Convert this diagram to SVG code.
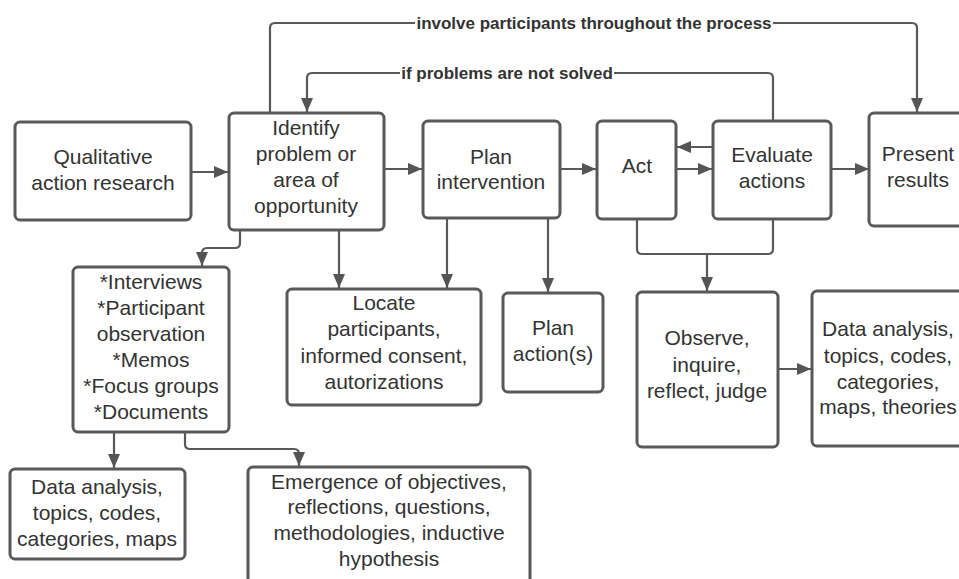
<svg xmlns="http://www.w3.org/2000/svg" width="959" height="579" viewBox="0 0 959 579">
<defs>
<marker id="ah" viewBox="0 0 14 12" refX="14" refY="6" markerWidth="14" markerHeight="12" markerUnits="userSpaceOnUse" orient="auto">
<path d="M0,0 L14,6 L0,12 Z" fill="#555"/>
</marker>
<style>
.box{fill:#fff;stroke:#595959;stroke-width:3}
.t{font-family:"Liberation Sans",Arial,sans-serif;font-size:21px;fill:#333;text-anchor:middle}
.lbl{font-family:"Liberation Sans",Arial,sans-serif;font-size:17px;font-weight:bold;fill:#333;text-anchor:middle}
.c{fill:none;stroke:#595959;stroke-width:2.2;stroke-linejoin:round}
.a{marker-end:url(#ah)}
</style>
</defs>
<rect width="959" height="579" fill="#fff"/>
<g id="connectors">
<path class="c a" d="M191,172 H228"/>
<path class="c a" d="M384,169 H422"/>
<path class="c a" d="M560,169 H596"/>
<path class="c a" d="M676,169 H712"/>
<path class="c a" d="M713,147 H677"/>
<path class="c a" d="M831,169 H869"/>
<path class="c" d="M270,113 V28 Q270,23 275,23 H415"/>
<path class="c a" d="M773,23 H912 Q917,23 917,28 V112"/>
<path class="c" d="M773,121 V78 Q773,73 768,73 H614"/>
<path class="c a" d="M400,73 H312 Q307,73 307,78 V112"/>
<path class="c a" d="M240,230 V243 Q240,248 235,248 H207 Q202,248 202,253 V266"/>
<path class="c a" d="M339,230 V288"/>
<path class="c a" d="M447,218 V288"/>
<path class="c a" d="M548,218 V292"/>
<path class="c" d="M637,219 V249 Q637,254 642,254 H768 Q773,254 773,249 V219"/>
<path class="c a" d="M707,254 V291"/>
<path class="c a" d="M778,369 H811"/>
<path class="c a" d="M114,432 V468"/>
<path class="c a" d="M185,432 V444 Q185,449 190,449 H294 Q299,449 299,454 V466"/>
<text class="lbl" x="594" y="29">involve participants throughout the process</text>
<text class="lbl" x="507" y="79">if problems are not solved</text>
</g>
<g id="n-qual"><rect class="box" x="15" y="122" width="176" height="98" rx="5"/><text class="t" x="103" y="164">Qualitative</text><text class="t" x="103" y="190">action research</text></g>
<g id="n-identify"><rect class="box" x="229" y="113" width="155" height="117" rx="5"/><text class="t" x="306" y="135">Identify</text><text class="t" x="306" y="161">problem or</text><text class="t" x="306" y="187">area of</text><text class="t" x="306" y="213">opportunity</text></g>
<g id="n-plan"><rect class="box" x="423" y="121" width="137" height="97" rx="5"/><text class="t" x="491" y="164">Plan</text><text class="t" x="491" y="189">intervention</text></g>
<g id="n-act"><rect class="box" x="597" y="121" width="79" height="98" rx="5"/><text class="t" x="637" y="173">Act</text></g>
<g id="n-eval"><rect class="box" x="713" y="121" width="118" height="98" rx="5"/><text class="t" x="772" y="162">Evaluate</text><text class="t" x="772" y="188">actions</text></g>
<g id="n-present"><rect class="box" x="869" y="113" width="110" height="113" rx="5"/><text class="t" x="918" y="161">Present</text><text class="t" x="918" y="187">results</text></g>
<g id="n-interviews"><rect class="box" x="73" y="267" width="156" height="165" rx="5"/><text class="t" x="151" y="289">*Interviews</text><text class="t" x="151" y="315">*Participant</text><text class="t" x="151" y="341">observation</text><text class="t" x="151" y="367">*Memos</text><text class="t" x="151" y="393">*Focus groups</text><text class="t" x="151" y="419">*Documents</text></g>
<g id="n-locate"><rect class="box" x="287" y="289" width="194" height="116" rx="5"/><text class="t" x="384" y="310">Locate</text><text class="t" x="384" y="336">participants,</text><text class="t" x="384" y="363">informed consent,</text><text class="t" x="384" y="389">autorizations</text></g>
<g id="n-planaction"><rect class="box" x="503" y="293" width="100" height="99" rx="5"/><text class="t" x="553" y="335">Plan</text><text class="t" x="553" y="361">action(s)</text></g>
<g id="n-observe"><rect class="box" x="637" y="292" width="141" height="155" rx="5"/><text class="t" x="707" y="345">Observe,</text><text class="t" x="707" y="372">inquire,</text><text class="t" x="707" y="398">reflect, judge</text></g>
<g id="n-data-right"><rect class="box" x="812" y="291" width="170" height="155" rx="5"/><text class="t" x="888" y="336">Data analysis,</text><text class="t" x="888" y="363">topics, codes,</text><text class="t" x="888" y="389">categories,</text><text class="t" x="888" y="414">maps, theories</text></g>
<g id="n-data-left"><rect class="box" x="10" y="469" width="175" height="90" rx="5"/><text class="t" x="97" y="494">Data analysis,</text><text class="t" x="97" y="520">topics, codes,</text><text class="t" x="97" y="546">categories, maps</text></g>
<g id="n-emergence"><rect class="box" x="248" y="467" width="282" height="130" rx="5"/><text class="t" x="389" y="489">Emergence of objectives,</text><text class="t" x="389" y="514">reflections, questions,</text><text class="t" x="389" y="540">methodologies, inductive</text><text class="t" x="389" y="566">hypothesis</text></g>
</svg>
